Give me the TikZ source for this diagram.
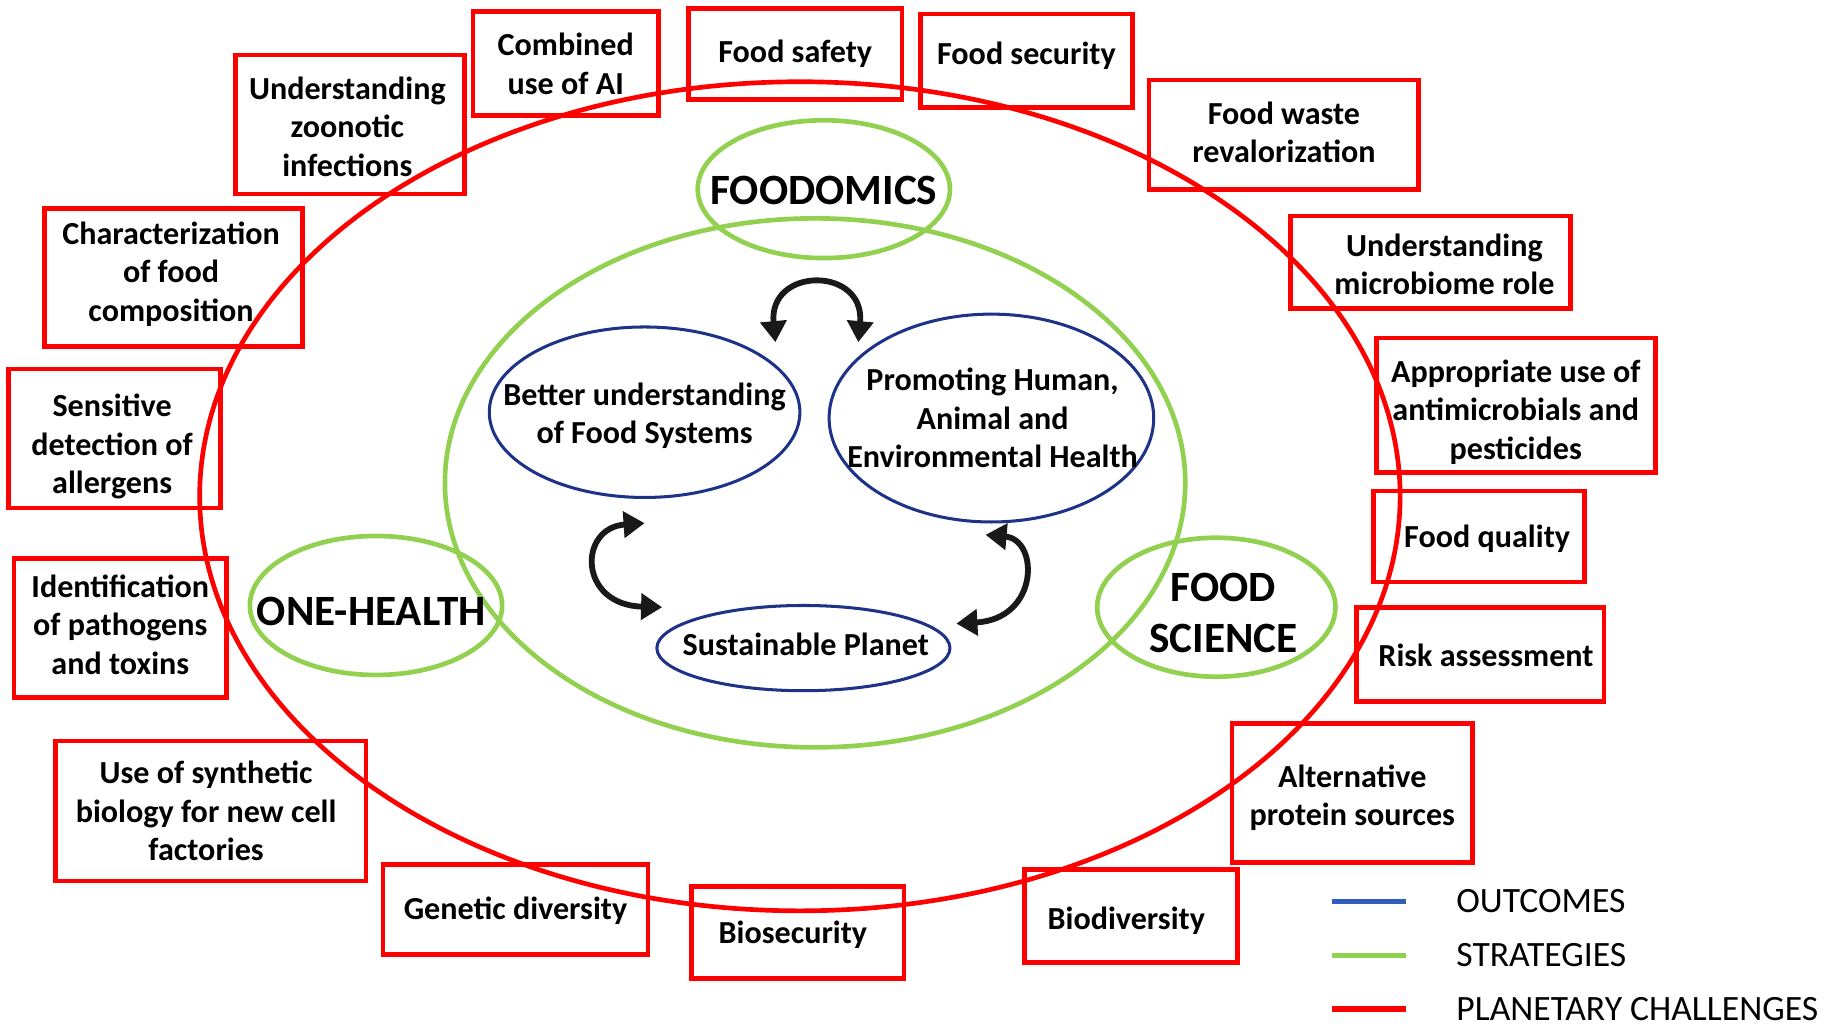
\documentclass[tikz,border=0pt]{standalone}
\usepackage{fontspec}
\setmainfont{Carlito}
\usetikzlibrary{shapes.geometric,arrows.meta}
\definecolor{chred}{RGB}{255,0,0}
\definecolor{stgreen}{RGB}{146,208,80}
\definecolor{ocblue}{RGB}{30,50,135}
\definecolor{lgblue}{RGB}{47,93,187}
\definecolor{arrowblack}{RGB}{25,25,25}
\begin{document}
\begin{tikzpicture}[x=1pt,y=-1pt,
  boxtext/.style={font=\fontsize{27.5}{33}\selectfont\bfseries,align=center,text=black,inner sep=0pt},
  bigtext/.style={font=\fontsize{37}{44}\selectfont\bfseries,align=center,text=black,inner sep=0pt},
  challenge/.style={draw=chred,line width=4pt,rectangle,inner sep=0pt},
  outcome/.style={draw=ocblue,line width=2.6pt,ellipse,inner sep=0pt},
  strategy/.style={draw=stgreen,line width=4pt,ellipse,inner sep=0pt},
  cyclearrow/.style={draw=arrowblack,line width=5pt,
     {Triangle[width=22pt,length=18pt]}-{Triangle[width=22pt,length=18pt]}},
  legendline/.style={line width=4.5pt},
  legendtext/.style={anchor=west,inner sep=0pt,font=\fontsize{30.5}{36}\selectfont,text=black}
]
\useasboundingbox (0,0) rectangle (1568,878.6);

% planetary challenges ring and strategies ring
\node[ellipse,inner sep=0pt,line width=4pt,draw=chred,minimum width=1028pt,minimum height=710pt] (ring) at (685,425) {};
\node[ellipse,inner sep=0pt,line width=4pt,draw=stgreen,minimum width=634pt,minimum height=453pt] (core) at (698,413.5) {};

% strategies
\node[strategy,minimum width=216pt,minimum height=118pt] (foodomics) at (705.5,162) {};
\node[bigtext] (foodomicst) at ([yshift=-1pt]foodomics.center) {FOODOMICS};
\node[strategy,minimum width=216pt,minimum height=119pt] (onehealth) at (322,518.5) {};
\node[bigtext] (oneheatlht) at ([xshift=-4pt,yshift=-5pt]onehealth.center) {ONE-HEALTH};
\node[strategy,minimum width=204pt,minimum height=119pt] (foodscience) at (1041.6,520) {};
\node[bigtext] (foodsciencet) at ([xshift=6pt,yshift=-5pt]foodscience.center) {FOOD\\SCIENCE};

% outcomes
\node[outcome,minimum width=266pt,minimum height=146pt] (better) at (552,353) {};
\node[boxtext] (bettert) at ([yshift=-3pt]better.center) {Better understanding\\of Food Systems};
\node[outcome,minimum width=278pt,minimum height=178pt] (promoting) at (849,358) {};
\node[boxtext] (promotingt) at ([xshift=1pt]promoting.center) {Promoting Human,\\Animal and\\Environmental Health};
\node[outcome,minimum width=251pt,minimum height=73pt] (planet) at (688,555) {};
\node[boxtext] (planett) at ([xshift=2pt,yshift=3pt]planet.center) {Sustainable Planet};

% cycle arrows
\coordinate (a1s) at (664,293);
\coordinate (a1e) at (735,293);
\draw[cyclearrow] (a1s) .. controls (658,228) and (741,228) .. (a1e);
\coordinate (a2s) at (552,448);
\coordinate (a2e) at (567,520);
\draw[cyclearrow] (a2s) .. controls (495,452) and (495,518) .. (a2e);
\coordinate (a3s) at (844,458);
\coordinate (a3e) at (819,534);
\draw[cyclearrow] (a3s) .. controls (890,462) and (890,530) .. (a3e);

% planetary challenges
\node[challenge,minimum width=159pt,minimum height=89pt] (ai) at (484.5,54.5) {};
\node[boxtext] (ait) at (ai.center) {Combined\\use of AI};
\node[challenge,minimum width=183pt,minimum height=78pt] (safety) at (681,46) {};
\node[boxtext] (safetyt) at (safety.center) {Food safety};
\node[challenge,minimum width=182pt,minimum height=80pt] (security) at (879,52) {};
\node[boxtext] (securityt) at ([yshift=4pt]security.center) {Food security};
\node[challenge,minimum width=231pt,minimum height=94pt] (waste) at (1099.5,115.5) {};
\node[boxtext] (wastet) at ([yshift=2pt]waste.center) {Food waste\\revalorization};
\node[challenge,minimum width=240pt,minimum height=79pt] (microbiome) at (1225,224.5) {};
\node[boxtext] (microbiomet) at ([xshift=12pt,yshift=-2pt]microbiome.center) {Understanding\\microbiome role};
\node[challenge,minimum width=239pt,minimum height=115pt] (antimicro) at (1298,347) {};
\node[boxtext] (antimicrot) at ([yshift=-6pt]antimicro.center) {Appropriate use of\\antimicrobials and\\pesticides};
\node[challenge,minimum width=181pt,minimum height=78pt] (quality) at (1266.5,459.5) {};
\node[boxtext] (qualityt) at ([xshift=7pt,yshift=-2pt]quality.center) {Food quality};
\node[challenge,minimum width=212pt,minimum height=80pt] (risk) at (1267.5,560.5) {};
\node[boxtext] (riskt) at ([xshift=5pt,yshift=-1pt]risk.center) {Risk assessment};
\node[challenge,minimum width=206pt,minimum height=119pt] (protein) at (1158,679) {};
\node[boxtext] (proteint) at ([yshift=-4pt]protein.center) {Alternative\\protein sources};
\node[challenge,minimum width=182pt,minimum height=80pt] (biodiv) at (968.5,784.5) {};
\node[boxtext] (biodivt) at ([xshift=-4pt,yshift=-4pt]biodiv.center) {Biodiversity};
\node[challenge,minimum width=182pt,minimum height=79pt] (biosec) at (683,798.5) {};
\node[boxtext] (biosect) at ([xshift=-4pt,yshift=-2pt]biosec.center) {Biosecurity};
\node[challenge,minimum width=227pt,minimum height=77pt] (genetic) at (441.5,779) {};
\node[boxtext] (genetict) at ([yshift=-1pt]genetic.center) {Genetic diversity};
\node[challenge,minimum width=266pt,minimum height=120pt] (synth) at (180.5,694.5) {};
\node[boxtext] (syntht) at ([xshift=-4pt]synth.center) {Use of synthetic\\biology for new cell\\factories};
\node[challenge,minimum width=182pt,minimum height=119pt] (pathogen) at (103,538) {};
\node[boxtext] (pathogent) at ([yshift=3pt]pathogen.center) {Identification\\of pathogens\\and toxins};
\node[challenge,minimum width=182pt,minimum height=119pt] (allergen) at (98,375.5) {};
\node[boxtext] (allergent) at ([xshift=-2pt,yshift=-7pt]allergen.center) {Sensitive\\detection of\\allergens};
\node[challenge,minimum width=221pt,minimum height=118pt] (charact) at (148.5,237.5) {};
\node[boxtext] (charactt) at ([xshift=-2pt,yshift=3pt]charact.center) {Characterization\\of food\\composition};
\node[challenge,minimum width=196pt,minimum height=119pt] (zoonotic) at (299.5,106.5) {};
\node[boxtext] (zoonotict) at ([xshift=-2pt,yshift=-2pt]zoonotic.center) {Understanding\\zoonotic\\infections};

% legend
\coordinate (lb1) at (1141,772);
\coordinate (lb2) at (1204,772);
\coordinate (lg1) at (1141,818);
\coordinate (lg2) at (1204,818);
\coordinate (lr1) at (1141,864);
\coordinate (lr2) at (1204,864);
\draw[legendline,draw=lgblue] (lb1) -- (lb2);
\draw[legendline,draw=stgreen] (lg1) -- (lg2);
\draw[legendline,draw=chred] (lr1) -- (lr2);
\node[legendtext] (louts) at (1247,772) {OUTCOMES};
\node[legendtext] (lstrat) at (1247,818) {STRATEGIES};
\node[legendtext] (lchal) at (1247,864) {PLANETARY CHALLENGES};
\end{tikzpicture}
\end{document}
